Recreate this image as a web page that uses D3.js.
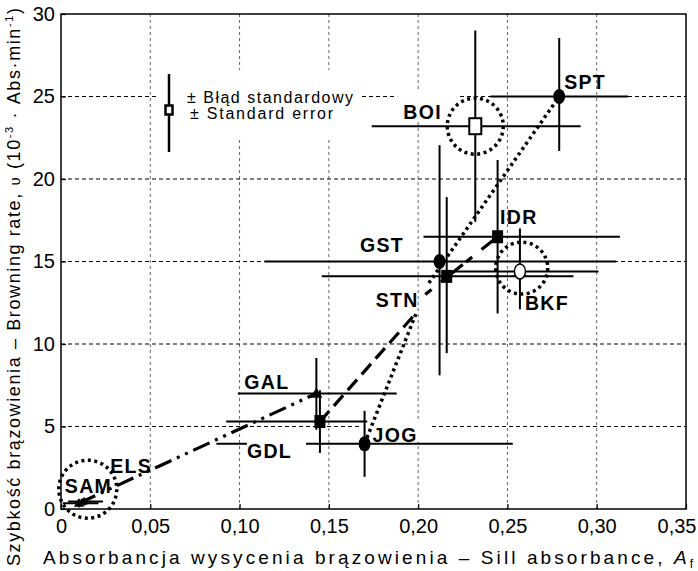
<!DOCTYPE html>
<html>
<head>
<meta charset="utf-8">
<script src="https://cdn.jsdelivr.net/npm/d3@7"></script>
<style>
  html, body { margin: 0; padding: 0; background: #fff; }
  svg { display: block; }
  text { font-family: "Liberation Sans", Arial, sans-serif; fill: #000; }
</style>
</head>
<body>
<svg id="chart" width="698" height="571"></svg>
<script>
// Sill absorbance (A_f) vs browning rate for honey samples, with ± standard errors
const samples   = ["SPT", "BOI", "IDR", "GST", "STN", "BKF", "GAL", "GDL", "JOG", "ELS", "SAM"];
const markers   = ["circle", "openSquare", "square", "circle", "square", "openCircle", "triangle", "square", "circle", "square", "triangle"];
const sillAbs   = [0.279, 0.232, 0.2445, 0.212, 0.216, 0.257, 0.143, 0.145, 0.170, 0.013, 0.010];
const absLow    = [0.2405, 0.174, 0.203, 0.114, 0.146, 0.215, 0.099, 0.0925, 0.087, 0.004, 0.001];
const absHigh   = [0.3175, 0.291, 0.313, 0.311, 0.287, 0.301, 0.188, 0.1715, 0.253, 0.0235, 0.021];
const rate      = [25.0, 23.2, 16.5, 15.0, 14.1, 14.4, 7.0, 5.3, 3.95, 0.45, 0.35];
const rateLow   = [21.7, 17.4, 11.85, 8.1, 9.45, 12.1, 4.8, 3.4, 1.95, 0.2, 0.1];
const rateHigh  = [28.55, 29.0, 21.15, 22.05, 18.9, 17.0, 9.15, 7.2, 5.95, 0.7, 0.6];

// Group connection lines (points in data units)
const dashDotPath = [[0.010, 0.35], [0.143, 7.0]];
const dashedPath  = [[0.145, 5.3], [0.199, 11.9]];
const dashedPath2 = [[0.204, 13.0], [0.2445, 16.5]];
const dottedPath  = [[0.170, 3.95], [0.199, 11.9]];
const dottedPath2 = [[0.206, 13.7], [0.279, 25.0]];

// Highlighted groups (dotted rings), centres in data units
const ringCentres = [[0.232, 23.2], [0.258, 14.6], [0.015, 1.2]];

const xTicks = [0, 0.05, 0.10, 0.15, 0.20, 0.25, 0.30, 0.35];
const yTicks = [0, 5, 10, 15, 20, 25, 30];
const xTickLabels = ["0", "0,05", "0,10", "0,15", "0,20", "0,25", "0,30", "0,35"];

// Label placement relative to each point: [dx, dy] to text start/baseline
const labelOffset = {
  SPT: [5, -7.5], BOI: [-72, -7], IDR: [2.5, -13], GST: [-79.5, -9.5], STN: [-71, 30.5],
  BKF: [5, 39], GAL: [-72, -4.5], GDL: [-73, 36.5], JOG: [8, -2], ELS: [26, -29], SAM: [-14, -10]
};
// White backing behind some labels: [left, right, top, bottom] padding, and layer
const labelPad = {
  BOI: { pad: [6, 15, 12, -3], layer: "under" },
  JOG: { pad: [12, 12, 3, -4], layer: "under" },
  GDL: { pad: [0, 14, 1, -2], layer: "over" }
};

const margin = { left: 61, right: 12, top: 14, bottom: 62 };
const W = 698, H = 571;
const svg = d3.select("#chart");

const x = d3.scaleLinear().domain([0, 0.35]).range([margin.left, W - margin.right]);
const y = d3.scaleLinear().domain([0, 30]).range([H - margin.bottom, margin.top]);

// Grid
const grid = svg.append("g");
grid.selectAll("line.vg").data(xTicks.slice(1, -1)).join("line")
  .attr("x1", d => x(d)).attr("x2", d => x(d))
  .attr("y1", y(0)).attr("y2", y(30))
  .attr("stroke", "#666").attr("stroke-width", 1).attr("stroke-dasharray", "3,3");
grid.selectAll("line.hg").data(yTicks.slice(1, -1)).join("line")
  .attr("x1", x(0)).attr("x2", x(0.35))
  .attr("y1", d => y(d)).attr("y2", d => y(d))
  .attr("stroke", "#000").attr("stroke-width", 1.2).attr("stroke-dasharray", "4,3");

// Legend background
svg.append("rect").attr("x", 158).attr("y", 70).attr("width", 204).attr("height", 68).attr("fill", "#fff");

// Axes
const xAxis = d3.axisBottom(x).tickValues(xTicks).tickSize(-5).tickFormat((d, i) => xTickLabels[i]);
const yAxis = d3.axisLeft(y).tickValues(yTicks).tickSize(-5).tickFormat(d => d);
const gx = svg.append("g").attr("transform", `translate(0,${y(0)})`).call(xAxis);
const gy = svg.append("g").attr("transform", `translate(${x(0)},0)`).call(yAxis);
[gx, gy].forEach(g => {
  g.select(".domain").remove();
  g.selectAll(".tick line").attr("stroke", "#000").attr("stroke-width", 1.2);
  g.selectAll(".tick text").attr("font-size", 20).attr("font-family", "Liberation Sans, Arial, sans-serif").attr("fill", "#000");
});
gx.selectAll(".tick text").attr("dy", "0.71em").attr("y", 10);
// keep the last x label inside the page
gx.selectAll(".tick text").filter((d, i) => i === xTicks.length - 1).attr("text-anchor", "end").attr("x", 10);
gy.selectAll(".tick text").attr("x", -6);

const bgUnder = svg.append("g");

// Error bars
const bars = svg.append("g").attr("stroke", "#000").attr("stroke-width", 2);
samples.forEach((s, i) => {
  bars.append("line").attr("x1", x(absLow[i])).attr("x2", x(absHigh[i]))
    .attr("y1", y(rate[i])).attr("y2", y(rate[i]));
  bars.append("line").attr("x1", x(sillAbs[i])).attr("x2", x(sillAbs[i]))
    .attr("y1", y(rateLow[i])).attr("y2", y(rateHigh[i]));
});

// Connection lines
const line = d3.line().x(d => x(d[0])).y(d => y(d[1]));
const lines = svg.append("g").attr("fill", "none").attr("stroke", "#000");
lines.append("path").attr("d", line(dashDotPath)).attr("stroke-width", 3.2).attr("stroke-dasharray", "18,6,3,6,3,6");
lines.append("path").attr("d", line(dashedPath)).attr("stroke-width", 3.2).attr("stroke-dasharray", "14,7");
lines.append("path").attr("d", line(dashedPath2)).attr("stroke-width", 3.2).attr("stroke-dasharray", "8,12,28,4");
lines.append("path").attr("d", line(dottedPath)).attr("stroke-width", 3.5).attr("stroke-dasharray", "3,3.5");
lines.append("path").attr("d", line(dottedPath2)).attr("stroke-width", 3.5).attr("stroke-dasharray", "3,3.5");

// Rings
const ringRadius = [28, 26, 29];
svg.append("g").selectAll("circle").data(ringCentres).join("circle")
  .attr("cx", d => x(d[0])).attr("cy", d => y(d[1]))
  .attr("r", (d, i) => ringRadius[i])
  .attr("fill", "none").attr("stroke", "#000").attr("stroke-width", 3.5).attr("stroke-dasharray", "3,3.5");

const bgOver = svg.append("g");

// Labels
const labelsG = svg.append("g");
samples.forEach((s, i) => {
  const [dx, dy] = labelOffset[s];
  const t = labelsG.append("text")
    .attr("x", x(sillAbs[i]) + dx).attr("y", y(rate[i]) + dy)
    .attr("font-size", 19.5).attr("font-weight", "bold").attr("letter-spacing", 1.3)
    .text(s);
  const cfg = labelPad[s];
  if (cfg) {
    const p = cfg.pad;
    const b = t.node().getBBox();
    (cfg.layer === "over" ? bgOver : bgUnder).append("rect")
      .attr("x", b.x - p[0]).attr("y", b.y - p[2])
      .attr("width", b.width + p[0] + p[1]).attr("height", b.height + p[2] + p[3])
      .attr("fill", "#fff");
  }
});

// Markers
const mk = svg.append("g");
samples.forEach((s, i) => {
  const cx = x(sillAbs[i]), cy = y(rate[i]);
  const m = markers[i];
  const small = (s === "SAM" || s === "ELS");
  if (m === "circle") {
    mk.append("ellipse").attr("cx", cx).attr("cy", cy).attr("rx", 6).attr("ry", 7.5).attr("fill", "#000");
  } else if (m === "openCircle") {
    mk.append("ellipse").attr("cx", cx).attr("cy", cy).attr("rx", 5.5).attr("ry", 7.5)
      .attr("fill", "#fff").attr("stroke", "#000").attr("stroke-width", 1.5);
  } else if (m === "square") {
    const w = small ? 7 : 11, h = small ? 6 : 13;
    mk.append("rect").attr("x", cx - w / 2).attr("y", cy - h / 2).attr("width", w).attr("height", h).attr("fill", "#000");
  } else if (m === "openSquare") {
    mk.append("rect").attr("x", cx - 6).attr("y", cy - 8).attr("width", 12).attr("height", 16)
      .attr("fill", "#fff").attr("stroke", "#000").attr("stroke-width", 2);
  } else if (m === "triangle") {
    const r = small ? 5 : 6;
    mk.append("path").attr("d", `M${cx},${cy - r}L${cx + r},${cy + r * 0.7}L${cx - r},${cy + r * 0.7}Z`).attr("fill", "#000");
  }
});

// Legend
const lg = svg.append("g");
lg.append("line").attr("x1", 169).attr("x2", 169).attr("y1", 74).attr("y2", 152).attr("stroke", "#000").attr("stroke-width", 2.5);
lg.append("rect").attr("x", 165.5).attr("y", 105.5).attr("width", 7).attr("height", 9)
  .attr("fill", "#fff").attr("stroke", "#000").attr("stroke-width", 2.5);
lg.append("text").attr("x", 187).attr("y", 103).attr("font-size", 16).attr("textLength", 166).attr("lengthAdjust", "spacing").text("± Błąd standardowy");
lg.append("text").attr("x", 190).attr("y", 119).attr("font-size", 16).attr("textLength", 143).attr("lengthAdjust", "spacing").text("± Standard error");

// Frame
svg.append("rect").attr("x", x(0)).attr("y", y(30)).attr("width", x(0.35) - x(0)).attr("height", y(0) - y(30))
  .attr("fill", "none").attr("stroke", "#000").attr("stroke-width", 1.5);

// Axis titles
const xt = svg.append("text").attr("x", 43).attr("y", 564).attr("font-size", 19)
  .attr("textLength", 650).attr("lengthAdjust", "spacing");
xt.append("tspan").text("Absorbancja wysycenia brązowienia – Sill absorbance, ");
xt.append("tspan").attr("font-style", "italic").text("A");
xt.append("tspan").attr("font-size", 12).attr("dy", 4).text("f");

const yt = svg.append("text").attr("transform", "translate(20,566) rotate(-90)").attr("font-size", 18)
  .attr("textLength", 558).attr("lengthAdjust", "spacing");
yt.append("tspan").text("Szybkość brązowienia – Browning rate, ");
yt.append("tspan").attr("font-size", 15).text("υ");
yt.append("tspan").text(" (10");
yt.append("tspan").attr("font-size", 11).attr("dy", -7).text("-3");
yt.append("tspan").attr("dy", 7).text(" · Abs·min");
yt.append("tspan").attr("font-size", 11).attr("dy", -7).text("-1");
yt.append("tspan").attr("dy", 7).text(")");
</script>
</body>
</html>
